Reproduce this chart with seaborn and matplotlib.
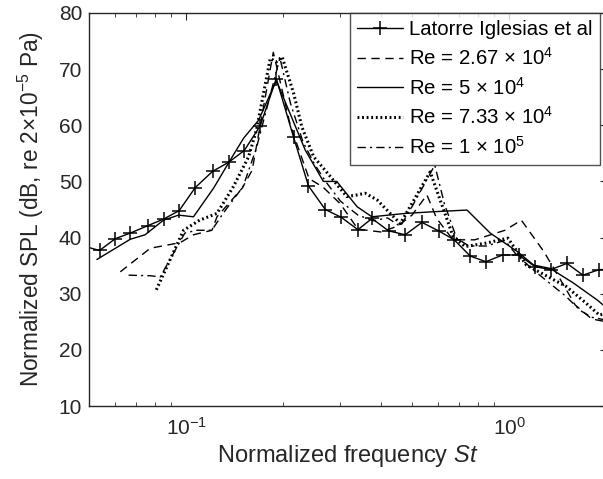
import matplotlib
matplotlib.use("Agg")
import matplotlib.pyplot as plt
import seaborn as sns
import pandas as pd
from matplotlib.ticker import LogLocator, NullFormatter, FixedLocator

sns.set_theme(style="white")
plt.rcParams['font.family'] = ['Liberation Sans', 'DejaVu Sans']
plt.rcParams['mathtext.fontset'] = 'custom'
plt.rcParams['mathtext.rm'] = 'Liberation Sans'
plt.rcParams['mathtext.it'] = 'Liberation Sans:italic'

# ---- data ----
lat_x = [0.048, 0.0539, 0.0603, 0.0671, 0.0759, 0.0851, 0.0951, 0.1066, 0.1207, 0.1352, 0.1512,
         0.1694, 0.190, 0.2149, 0.239, 0.2694, 0.302, 0.340, 0.3757, 0.4229, 0.4764, 0.5366,
         0.604, 0.6756, 0.7572, 0.847, 0.9535, 1.069, 1.204, 1.346, 1.509, 1.691, 1.899, 2.13]
lat_y = [38.5, 37.7, 39.8, 40.8, 42.1, 43.3, 44.8, 48.9, 51.8, 53.4, 55.5,
         59.9, 68.3, 57.9, 49.2, 45.0, 43.6, 41.4, 43.4, 41.2, 40.5, 42.7,
         41.2, 39.6, 36.7, 35.7, 36.9, 36.9, 34.8, 34.3, 35.4, 33.3, 34.3, 34.3]

re267_x = [0.0625, 0.0774, 0.0958, 0.1053, 0.1201, 0.1245, 0.149, 0.160, 0.186, 0.21, 0.24,
           0.265, 0.30, 0.34, 0.40, 0.45, 0.50, 0.556, 0.596, 0.67, 0.782, 0.97, 1.09, 1.28,
           1.44, 1.6, 1.8, 2.0]
re267_y = [33.9, 38.1, 39.1, 40.5, 41.3, 43.7, 48.8, 52.0, 73.0, 60.0, 50.5,
           49.0, 46.0, 41.5, 41.0, 42.0, 44.0, 47.6, 43.4, 39.6, 39.6, 41.3, 43.1, 37.5,
           32.5, 28.0, 25.5, 25.0]

re5_x = [0.0529, 0.0671, 0.0746, 0.085, 0.0947, 0.1053, 0.1215, 0.1352, 0.1505, 0.1675, 0.190,
         0.2335, 0.2658, 0.2924, 0.338, 0.3757, 0.476, 0.582, 0.74, 0.873, 1.06, 1.19, 1.34,
         1.58, 1.87, 2.0]
re5_y = [36.1, 39.7, 40.5, 43.1, 44.0, 43.7, 48.8, 53.3, 57.7, 60.9, 68.0,
         55.6, 50.0, 50.0, 45.5, 43.7, 44.3, 44.6, 44.9, 40.8, 37.5, 35.1, 34.5,
         31.9, 28.9, 27.5]

re733_x = [0.0808, 0.0981, 0.110, 0.1245, 0.140, 0.156, 0.165, 0.182, 0.19, 0.198, 0.215,
           0.228, 0.248, 0.28, 0.314, 0.338, 0.358, 0.39, 0.428, 0.46, 0.569, 0.67, 0.73,
           0.845, 0.99, 1.05, 1.13, 1.5, 1.73, 1.9, 2.0]
re733_y = [30.7, 41.3, 43.1, 44.3, 49.1, 54.4, 59.2, 71.9, 71.3, 72.2, 65.7,
           59.7, 54.4, 50.8, 47.3, 47.6, 47.9, 46.7, 44.3, 42.5, 51.7, 40.2, 38.4,
           39.0, 39.9, 37.8, 35.1, 31.3, 28.3, 26.2, 26.5]

re1e5_x = [0.0663, 0.0774, 0.0831, 0.099, 0.108, 0.120, 0.130, 0.150, 0.165, 0.195, 0.21,
           0.23, 0.25, 0.27, 0.30, 0.34, 0.38, 0.42, 0.46, 0.50, 0.54, 0.588, 0.63, 0.687,
           0.75, 0.85, 0.97, 1.05, 1.2, 1.5, 1.66, 1.8, 2.0]
re1e5_y = [33.3, 33.2, 33.0, 40.8, 41.3, 41.3, 44.3, 49.1, 56.0, 72.0, 64.0,
           57.0, 53.0, 50.0, 46.5, 44.0, 43.0, 43.5, 42.0, 45.5, 49.0, 52.9, 46.0, 39.9,
           38.5, 38.5, 39.5, 37.0, 34.0, 29.5, 27.0, 25.8, 25.3]

labels = ["Latorre Iglesias et al",
          r"Re = 2.67 $\times$ 10$^4$",
          r"Re = 5 $\times$ 10$^4$",
          r"Re = 7.33 $\times$ 10$^4$",
          r"Re = 1 $\times$ 10$^5$"]
y_ticks = [10, 20, 30, 40, 50, 60, 70, 80]

fig = plt.figure(figsize=(6.03, 4.79), dpi=100)
ax_left, ax_right = 89, 606.5
ax = fig.add_axes([ax_left / 603, 1 - 406 / 479, (ax_right - ax_left) / 603, (406 - 13) / 479])

dark = "#262626"
series = [
    (lat_x, lat_y, labels[0], dict(linestyle='-', lw=1.0, marker='+', markersize=10, mew=1.1,
                                   markeredgecolor='black')),
    (re267_x, re267_y, labels[1], dict(linestyle=(0, (6, 4)), lw=1.0)),
    (re5_x, re5_y, labels[2], dict(linestyle='-', lw=1.0)),
    (re733_x, re733_y, labels[3], dict(linestyle=(0, (0.6, 0.9)), lw=2.2)),
    (re1e5_x, re1e5_y, labels[4], dict(linestyle=(0, (6, 3, 1.5, 3)), lw=1.0)),
]
for xs, ys, lab, kw in series:
    df = pd.DataFrame({"x": xs, "y": ys})
    sns.lineplot(data=df, x="x", y="y", ax=ax, color="black", label=lab, sort=False,
                 estimator=None, **kw)

ax.set_xscale("log")
ax.set_xlim(0.05, 2.0)
ax.set_ylim(10, 80)
ax.yaxis.set_major_locator(FixedLocator(y_ticks))
ax.xaxis.set_major_locator(LogLocator(base=10, numticks=10))
ax.xaxis.set_minor_locator(LogLocator(base=10, subs=range(2, 10), numticks=10))
ax.xaxis.set_minor_formatter(NullFormatter())

for s in ax.spines.values():
    s.set_color(dark)
    s.set_linewidth(1.0)
ax.tick_params(axis='both', which='major', direction='in', length=5, width=0.8,
               top=True, right=True, colors=dark, labelsize=15, labelcolor=dark, pad=5)
ax.tick_params(axis='x', which='minor', direction='in', length=3, width=0.6,
               top=True, bottom=True, colors=dark)
ax.tick_params(axis='x', which='major', pad=8)

ax.set_xlabel(r"Normalized frequency $\mathit{St}$", fontsize=17, color=dark, labelpad=3)
ax.set_ylabel(r"Normalized SPL (dB, re 2$\times$10$^{-5}$ Pa)", fontsize=16.3, color=dark, labelpad=9)
ax.grid(False)

leg = ax.legend(loc="upper right", fontsize=14.7, frameon=True, fancybox=False,
                handlelength=2.25, handletextpad=0.3, borderpad=0.35, labelspacing=0.38,
                borderaxespad=0.0,
                bbox_to_anchor=((600 - ax_left) / (ax_right - ax_left), 1.0))
leg.get_frame().set_edgecolor(dark)
leg.get_frame().set_linewidth(1.0)
for t in leg.get_texts():
    t.set_color("black")

fig.savefig("out.png", dpi=100)
